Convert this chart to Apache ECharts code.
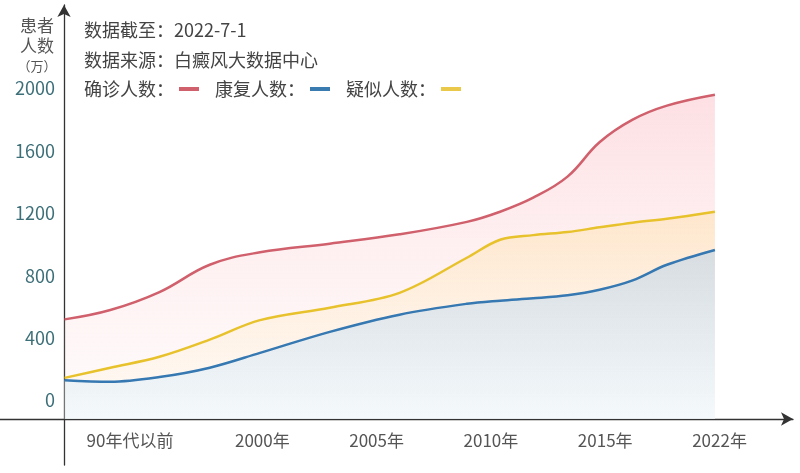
<!DOCTYPE html>
<html lang="zh">
<head>
<meta charset="UTF-8">
<title>白癜风患者人数</title>
<script src="https://cdn.jsdelivr.net/npm/echarts@6/dist/echarts.min.js"></script>
<style>
  html, body { margin: 0; padding: 0; background: #fff; }
  #main { width: 800px; height: 473px; }
</style>
</head>
<body>
<div id="main"></div>
<script>
// 横轴刻度名称（位置 0..5）
var categories = ['90年代以前', '2000年', '2005年', '2010年', '2015年', '2022年'];
// 曲线采样点所在的横轴位置（以刻度为单位）
var xPos = [-0.73, -0.33, 0.1, 0.54, 0.98, 1.59, 2.2, 2.79, 3.08, 3.37, 3.67, 3.95, 4.24, 4.54, 4.96];
// 确诊人数（万）
var confirmed = [520, 580, 695, 870, 950, 1005, 1065, 1145, 1210, 1300, 1435, 1655, 1800, 1890, 1960];
// 疑似人数（万）
var suspected = [145, 210, 280, 390, 515, 595, 690, 915, 1030, 1060, 1080, 1110, 1140, 1165, 1210];
// 康复人数（万）
var recovered = [130, 120, 150, 210, 305, 440, 550, 620, 640, 655, 675, 710, 770, 870, 965];
// 纵轴刻度
var yTicks = [0, 400, 800, 1200, 1600, 2000];

var FONT = 'Noto Sans CJK SC';

function pairs(ys) {
    var out = [];
    for (var i = 0; i < ys.length; i++) {
        out.push([xPos[i], ys[i]]);
    }
    return out;
}

function grad(top, bottom) {
    return new echarts.graphic.LinearGradient(0, 0, 0, 1, [
        { offset: 0, color: top },
        { offset: 1, color: bottom }
    ]);
}

var chart = echarts.init(document.getElementById('main'));

chart.setOption({
    animation: false,
    textStyle: { fontFamily: FONT },
    title: [{
        text: '{a|患者}\n{a|人数}\n{b|（万）}',
        left: 37,
        top: 16,
        textAlign: 'center',
        padding: 0,
        textStyle: {
            fontWeight: 'normal',
            rich: {
                a: { fontSize: 17, lineHeight: 20, color: '#555', fontWeight: 'normal', fontFamily: FONT },
                b: { fontSize: 13, lineHeight: 20, color: '#555', fontWeight: 'normal', fontFamily: FONT }
            }
        }
    }, {
        text: '数据截至：2022-7-1\n数据来源：白癜风大数据中心',
        left: 84,
        top: 15,
        padding: 0,
        textStyle: {
            fontSize: 18,
            lineHeight: 30,
            fontWeight: 'normal',
            color: '#444',
            fontFamily: FONT
        }
    }],
    legend: {
        left: 84,
        top: 80,
        padding: 0,
        align: 'right',
        icon: 'rect',
        itemWidth: 20,
        itemHeight: 4,
        itemGap: 16,
        textStyle: { fontSize: 18, color: '#444', fontFamily: FONT },
        data: ['确诊人数：', '康复人数：', '疑似人数：']
    },
    grid: [
        { left: 0, right: 7, top: 5, bottom: 54 },
        { left: 64, width: 1, top: 5, bottom: 8 }
    ],
    xAxis: [{
        type: 'value',
        gridIndex: 0,
        min: -1.295,
        max: 5.643,
        splitLine: { show: false },
        axisTick: { show: false },
        axisLine: {
            show: true,
            onZero: false,
            symbol: ['none', 'arrow'],
            symbolSize: [10, 12],
            lineStyle: { color: '#333', width: 1.3 }
        },
        axisLabel: {
            customValues: [0, 1, 2, 3, 4, 5],
            margin: 13,
            fontSize: 17,
            color: '#555',
            fontFamily: FONT,
            formatter: function (v) {
                var i = Math.round(v);
                if (i === 0) {
                    return '{a|' + categories[0] + '}';
                }
                return categories[i];
            },
            rich: {
                a: { fontSize: 17, color: '#555', fontFamily: FONT, padding: [0, 36, 0, 0] }
            }
        }
    }, {
        type: 'value',
        gridIndex: 1,
        show: false
    }],
    yAxis: [{
        type: 'value',
        gridIndex: 0,
        min: -118.6,
        max: 2535,
        show: false,
        splitLine: { show: false }
    }, {
        type: 'value',
        gridIndex: 1,
        min: -413.4,
        max: 2535,
        position: 'left',
        splitLine: { show: false },
        axisTick: { show: false },
        axisLine: {
            show: true,
            symbol: ['none', 'arrow'],
            symbolSize: [10, 12],
            lineStyle: { color: '#333', width: 1.3 }
        },
        axisLabel: {
            customValues: yTicks,
            margin: 9,
            fontSize: 18,
            color: '#3d6f79',
            fontFamily: FONT,
            formatter: function (v) { return String(v); }
        }
    }],
    series: [{
        name: '确诊人数：',
        type: 'line',
        xAxisIndex: 0,
        yAxisIndex: 0,
        smooth: 0.4,
        showSymbol: false,
        color: '#d0606c',
        lineStyle: { width: 2.5, color: '#d0606c' },
        areaStyle: {
            origin: 'start',
            color: grad('rgba(250,180,188,0.6)', 'rgba(255,225,225,0.2)')
        },
        data: pairs(confirmed),
        z: 2
    }, {
        name: '疑似人数：',
        type: 'line',
        xAxisIndex: 0,
        yAxisIndex: 0,
        smooth: 0.35,
        showSymbol: false,
        color: '#e9c84a',
        lineStyle: { width: 2.5, color: '#e8c22c' },
        areaStyle: {
            origin: 'start',
            color: grad('rgba(255,218,130,0.45)', 'rgba(255,235,180,0.1)')
        },
        data: pairs(suspected),
        z: 3
    }, {
        name: '康复人数：',
        type: 'line',
        xAxisIndex: 0,
        yAxisIndex: 0,
        smooth: 0.35,
        showSymbol: false,
        color: '#3a7bb0',
        lineStyle: { width: 2.5, color: '#3578b2' },
        areaStyle: {
            origin: 'start',
            color: grad('rgba(185,210,232,0.8)', 'rgba(240,249,254,0.95)')
        },
        data: pairs(recovered),
        z: 4
    }]
});
</script>
</body>
</html>
